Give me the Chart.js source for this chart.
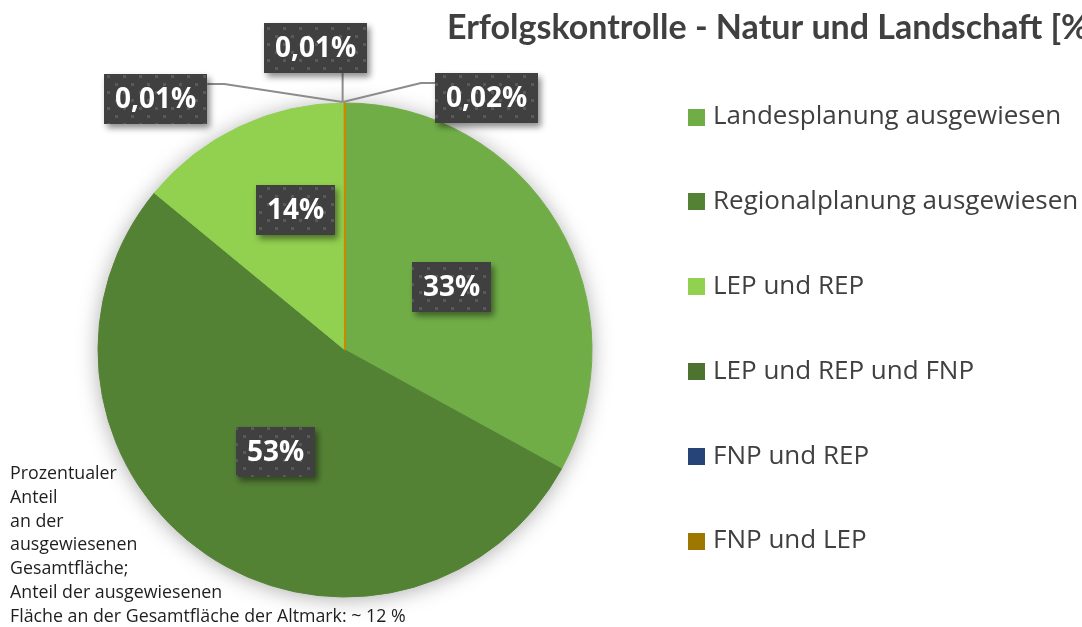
<!DOCTYPE html>
<html>
<head>
<meta charset="utf-8">
<script src="https://cdn.jsdelivr.net/npm/chart.js@4.4.0/dist/chart.umd.min.js"></script>
<style>
  html, body { margin: 0; padding: 0; background: #fff; }
  canvas { display: block; }
</style>
</head>
<body>
<canvas id="pie" width="1082" height="627"></canvas>
<script>
// data
const categories = [
  'Landesplanung ausgewiesen',
  'Regionalplanung ausgewiesen',
  'LEP und REP',
  'LEP und REP und FNP',
  'FNP und REP',
  'FNP und LEP'
];
const shares = [33, 53, 14, 0.01, 0.01, 0.02];
const valueLabels = ['33%', '53%', '14%', '0,01%', '0,01%', '0,02%'];
const colors = ['#70AD47', '#548235', '#92D050', '#4E7331', '#264478', '#9E7700'];

const titleText = 'Erfolgskontrolle - Natur und Landschaft [%]';
const noteLines = [
  'Prozentualer',
  'Anteil',
  'an der',
  'ausgewiesenen',
  'Gesamtfläche;',
  'Anteil der ausgewiesenen',
  'Fläche an der Gesamtfläche der Altmark: ~ 12 %'
];

// where each data label sits (inside: along slice middle, outside: callout box)
const placement = [
  { inside: true, r: 0.5, nudge: 0 },
  { inside: true, r: 0.5, nudge: 0 },
  { inside: true, r: 0.6, nudge: 6 },
  { inside: false, dx: -0.766, dy: -1.016, leader: 'right' },
  { inside: false, dx: -0.121, dy: -1.222, leader: 'down' },
  { inside: false, dx: 0.573, dy: -1.020, leader: 'left' }
];

// dotted dark fill used by the label boxes
const dotTile = (() => {
  const c = document.createElement('canvas');
  c.width = 16; c.height = 16;
  const g = c.getContext('2d');
  g.fillStyle = '#404040';
  g.fillRect(0, 0, 16, 16);
  g.fillStyle = '#595959';
  g.fillRect(3, 3, 3, 3);
  g.fillRect(11, 11, 3, 3);
  return c;
})();

const pieShadow = {
  id: 'pieShadow',
  beforeDatasetsDraw(chart) {
    const arc = chart.getDatasetMeta(0).data[0];
    if (!arc) return;
    const ctx = chart.ctx;
    ctx.save();
    ctx.shadowColor = 'rgba(0,0,0,0.35)';
    ctx.shadowBlur = 22;
    ctx.shadowOffsetY = 2;
    ctx.fillStyle = '#ffffff';
    ctx.beginPath();
    ctx.arc(arc.x, arc.y, arc.outerRadius - 1, 0, Math.PI * 2);
    ctx.fill();
    ctx.restore();
  }
};

const valueBoxes = {
  id: 'valueBoxes',
  afterDatasetsDraw(chart) {
    const ctx = chart.ctx;
    const meta = chart.getDatasetMeta(0);
    const pattern = ctx.createPattern(dotTile, 'repeat');
    ctx.save();
    ctx.font = 'bold 28px "Open Sans"';
    meta.data.forEach((arc, i) => {
      const p = placement[i];
      const x = arc.x, y = arc.y, R = arc.outerRadius;
      const mid = (arc.startAngle + arc.endAngle) / 2;
      const tw = ctx.measureText(valueLabels[i]).width;
      const bw = Math.round(tw + 22), bh = 50;
      let cx, cy;
      if (p.inside) {
        const a = mid + p.nudge * Math.PI / 180;
        cx = x + Math.cos(a) * R * p.r;
        cy = y + Math.sin(a) * R * p.r;
      } else {
        cx = x + p.dx * R;
        cy = y + p.dy * R;
        const ax = x + Math.cos(mid) * R - 2, ay = y + Math.sin(mid) * R - 1;
        const top = cy - bh / 2;
        ctx.strokeStyle = '#8C8C8C';
        ctx.lineWidth = 2;
        ctx.beginPath();
        if (p.leader === 'right') {
          ctx.moveTo(cx + bw / 2, top + 10);
          ctx.lineTo(cx + bw / 2 + 17, top + 10);
          ctx.lineTo(ax, ay);
        } else if (p.leader === 'left') {
          ctx.moveTo(cx - bw / 2, top + 10);
          ctx.lineTo(cx - bw / 2 - 14, top + 10);
          ctx.lineTo(ax, ay);
        } else {
          ctx.moveTo(ax, cy + bh / 2);
          ctx.lineTo(ax, ay);
        }
        ctx.stroke();
      }
      const bx = Math.round(cx - bw / 2), by = Math.round(cy - bh / 2);
      ctx.save();
      ctx.shadowColor = 'rgba(0,0,0,0.45)';
      ctx.shadowBlur = 6;
      ctx.shadowOffsetX = 3;
      ctx.shadowOffsetY = 4;
      ctx.fillStyle = pattern;
      ctx.fillRect(bx, by, bw, bh);
      ctx.restore();
      ctx.fillStyle = '#ffffff';
      ctx.textAlign = 'center';
      ctx.textBaseline = 'middle';
      ctx.fillText(valueLabels[i], bx + bw / 2, by + bh / 2 + 1);
    });
    ctx.restore();
  }
};

const sideTexts = {
  id: 'sideTexts',
  afterDraw(chart) {
    const ctx = chart.ctx;
    ctx.save();
    // title (runs off the right edge like the original)
    ctx.fillStyle = '#404040';
    ctx.font = 'bold 34px Lato';
    ctx.textAlign = 'left';
    ctx.textBaseline = 'alphabetic';
    ctx.fillText(titleText, 447, 39);

    // legend
    ctx.font = '26px "Open Sans"';
    ctx.textBaseline = 'middle';
    categories.forEach((name, i) => {
      const rowY = 117 + i * 84.8;
      ctx.fillStyle = colors[i];
      ctx.fillRect(688, Math.round(rowY - 8.5), 17, 17);
      ctx.fillStyle = '#404040';
      ctx.fillText(name, 713, rowY);
    });

    // note bottom left
    ctx.font = '17.8px "Open Sans"';
    ctx.fillStyle = '#1e1e1e';
    ctx.textBaseline = 'alphabetic';
    noteLines.forEach((line, i) => {
      ctx.fillText(line, 10, 479 + i * 23.8);
    });
    ctx.restore();
  }
};

const data = {
  labels: categories,
  datasets: [{
    data: shares,
    backgroundColor: colors,
    borderColor: ['#70AD47', '#548235', '#92D050', '#8C8C8C', '#8C8C8C', '#C98A00'],
    borderWidth: [1, 1, 1, 1, 1, 2]
  }]
};

const options = {
  responsive: false,
  animation: false,
  layout: { padding: { left: 97, right: 489, top: 102, bottom: 29 } },
  plugins: {
    legend: { display: false },
    title: { display: false },
    tooltip: { enabled: false }
  }
};

const pie = new Chart(document.getElementById('pie'), {
  type: 'pie',
  data: data,
  options: options,
  plugins: [pieShadow, valueBoxes, sideTexts]
});
</script>
</body>
</html>
